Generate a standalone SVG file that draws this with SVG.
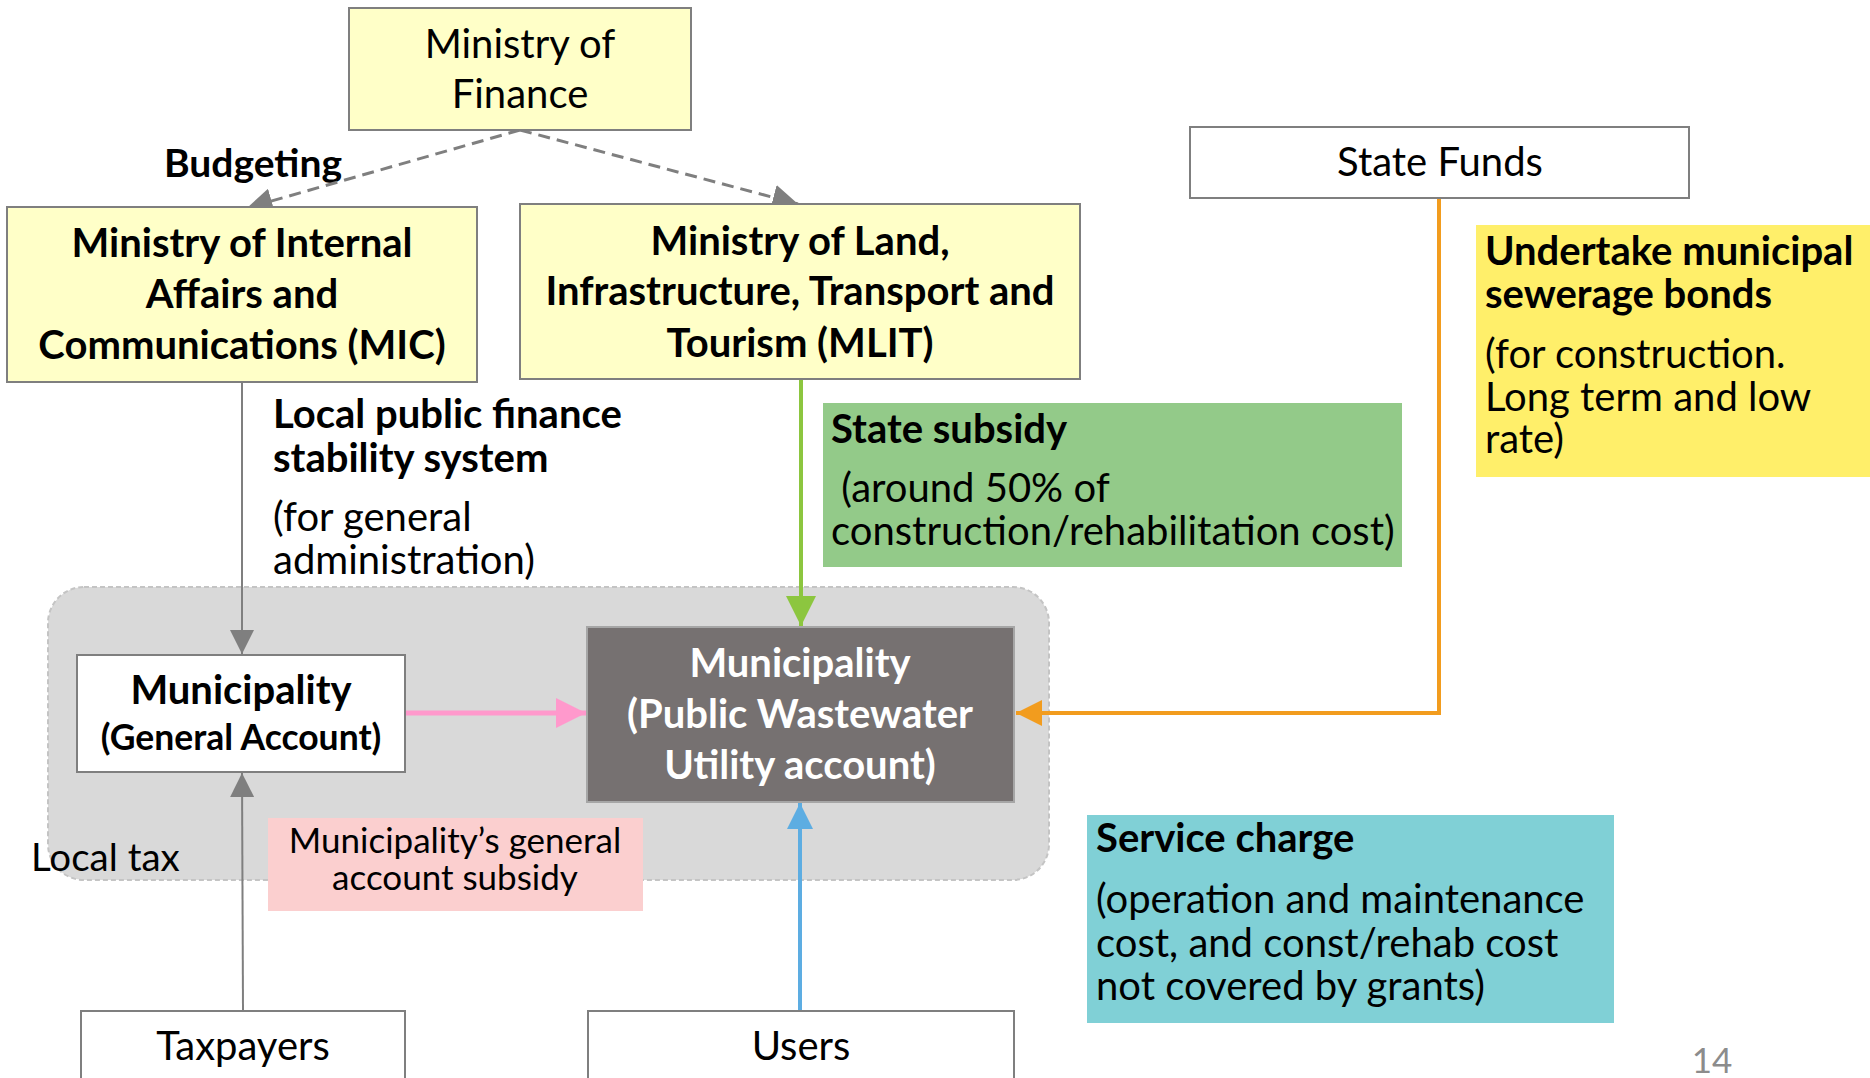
<svg xmlns="http://www.w3.org/2000/svg" width="1870" height="1078" viewBox="0 0 1870 1078">
  <style>
    text { font-family: Lato, "Open Sans", sans-serif; fill: #000; }
    .r { font-size: 40px; }
    .b { font-size: 40px; font-weight: bold; }
    .c { text-anchor: middle; }
    .w { fill: #FFFFFF; }
    .box { fill: #FFFFC8; stroke: #7F7F7F; stroke-width: 2; }
    .wbox { fill: #FFFFFF; stroke: #7F7F7F; stroke-width: 2; }
  </style>
  <defs>
    <marker id="ahGray" viewBox="0 0 10 10" refX="10" refY="5" markerWidth="12" markerHeight="12" orient="auto">
      <path d="M0,0 L10,5 L0,10 z" fill="#7F7F7F"/>
    </marker>
    <marker id="ahGrayDash" viewBox="0 0 10 10" refX="10" refY="5" markerWidth="8.5" markerHeight="8.5" orient="auto">
      <path d="M0,0 L10,5 L0,10 z" fill="#7F7F7F"/>
    </marker>
    <marker id="ahGreen" viewBox="0 0 10 10" refX="10" refY="5" markerWidth="7.5" markerHeight="7.5" orient="auto">
      <path d="M0,0 L10,5 L0,10 z" fill="#8CC63F"/>
    </marker>
    <marker id="ahPink" viewBox="0 0 10 10" refX="10" refY="5" markerWidth="6" markerHeight="6" orient="auto">
      <path d="M0,0 L10,5 L0,10 z" fill="#FF99CC"/>
    </marker>
    <marker id="ahOrange" viewBox="0 0 10 10" refX="10" refY="5" markerWidth="6.5" markerHeight="6.5" orient="auto">
      <path d="M0,0 L10,5 L0,10 z" fill="#F29C1E"/>
    </marker>
    <marker id="ahBlue" viewBox="0 0 10 10" refX="10" refY="5" markerWidth="6.5" markerHeight="6.5" orient="auto">
      <path d="M0,0 L10,5 L0,10 z" fill="#5DADE2"/>
    </marker>
  </defs>

  <!-- municipality boundary -->
  <g id="municipality-area">
    <rect x="48" y="587" width="1001" height="293" rx="36" ry="36" fill="#D9D9D9" stroke="#C4C4C4" stroke-width="2" stroke-dasharray="5 3"/>
  </g>

  <!-- labels and annotation panels -->
  <g id="label-budgeting">
    <text class="b c" x="253" y="177" style="font-size:39px">Budgeting</text>
  </g>
  <g id="label-stability">
    <text class="b" x="273" y="428">Local public finance</text>
    <text class="b" x="273" y="472">stability system</text>
    <text class="r" x="273" y="531">(for general</text>
    <text class="r" x="273" y="574">administration)</text>
  </g>
  <g id="panel-state-subsidy">
    <rect x="823" y="403" width="579" height="164" fill="#93CA89"/>
    <text class="b" x="831" y="443">State subsidy</text>
    <text class="r" x="831" y="502" xml:space="preserve"> (around 50% of</text>
    <text class="r" x="831" y="545">construction/rehabilitation cost)</text>
  </g>
  <g id="panel-bonds">
    <rect x="1476" y="225" width="394" height="252" fill="#FFEF6A"/>
    <text class="b" x="1485" y="265">Undertake municipal</text>
    <text class="b" x="1485" y="308">sewerage bonds</text>
    <text class="r" x="1485" y="368">(for construction.</text>
    <text class="r" x="1485" y="411">Long term and low</text>
    <text class="r" x="1485" y="453">rate)</text>
  </g>
  <g id="panel-general-subsidy">
    <rect x="268" y="818" width="375" height="93" fill="#FBCFCF"/>
    <text class="c" x="455" y="853" style="font-size:35px">Municipality’s general</text>
    <text class="c" x="455" y="890" style="font-size:35px">account subsidy</text>
  </g>
  <g id="label-local-tax">
    <text class="r" x="31" y="871" style="font-size:38.5px">Local tax</text>
  </g>
  <g id="panel-service-charge">
    <rect x="1087" y="815" width="527" height="208" fill="#80D0D6"/>
    <text class="b" x="1096" y="852">Service charge</text>
    <text class="r" x="1096" y="913">(operation and maintenance</text>
    <text class="r" x="1096" y="957">cost, and const/rehab cost</text>
    <text class="r" x="1096" y="1000">not covered by grants)</text>
  </g>

  <!-- connectors -->
  <g id="connectors" fill="none">
    <line x1="520" y1="130" x2="247" y2="208" stroke="#7F7F7F" stroke-width="3" stroke-dasharray="12 7" marker-end="url(#ahGrayDash)"/>
    <line x1="520" y1="130" x2="798" y2="204" stroke="#7F7F7F" stroke-width="3" stroke-dasharray="12 7" marker-end="url(#ahGrayDash)"/>
    <line x1="242" y1="382" x2="242" y2="654" stroke="#7F7F7F" stroke-width="2" marker-end="url(#ahGray)"/>
    <line x1="243" y1="1011" x2="242" y2="773" stroke="#7F7F7F" stroke-width="2" marker-end="url(#ahGray)"/>
    <line x1="801" y1="379" x2="801" y2="626" stroke="#8CC63F" stroke-width="4" marker-end="url(#ahGreen)"/>
    <line x1="406" y1="713" x2="586" y2="713" stroke="#FF99CC" stroke-width="5" marker-end="url(#ahPink)"/>
    <polyline points="1439,198 1439,713 1016,713" stroke="#F29C1E" stroke-width="4" marker-end="url(#ahOrange)"/>
    <line x1="800" y1="1011" x2="800" y2="803" stroke="#5DADE2" stroke-width="4" marker-end="url(#ahBlue)"/>
  </g>

  <!-- nodes -->
  <g id="node-mof">
    <rect class="box" x="349" y="8" width="342" height="122"/>
    <text class="r c" x="520" y="58">Ministry of</text>
    <text class="r c" x="520" y="108">Finance</text>
  </g>
  <g id="node-mic">
    <rect class="box" x="7" y="207" width="470" height="175"/>
    <text class="b c" x="242" y="257">Ministry of Internal</text>
    <text class="b c" x="242" y="308">Affairs and</text>
    <text class="b c" x="242" y="359">Communications (MIC)</text>
  </g>
  <g id="node-mlit">
    <rect class="box" x="520" y="204" width="560" height="175"/>
    <text class="b c" x="800" y="255">Ministry of Land,</text>
    <text class="b c" x="800" y="305">Infrastructure, Transport and</text>
    <text class="b c" x="800" y="357">Tourism (MLIT)</text>
  </g>
  <g id="node-state-funds">
    <rect class="wbox" x="1190" y="127" width="499" height="71"/>
    <text class="r c" x="1440" y="176">State Funds</text>
  </g>
  <g id="node-general-account">
    <rect class="wbox" x="77" y="655" width="328" height="117"/>
    <text class="b c" x="241" y="704">Municipality</text>
    <text class="b c" x="241" y="750" style="font-size:35.5px">(General Account)</text>
  </g>
  <g id="node-utility-account">
    <rect x="587" y="627" width="427" height="175" fill="#767171" stroke="#A6A6A6" stroke-width="2"/>
    <text class="b c w" x="800" y="677">Municipality</text>
    <text class="b c w" x="800" y="728">(Public Wastewater</text>
    <text class="b c w" x="800" y="779">Utility account)</text>
  </g>
  <g id="node-taxpayers">
    <rect class="wbox" x="81" y="1011" width="324" height="80"/>
    <text class="r c" x="243" y="1060">Taxpayers</text>
  </g>
  <g id="node-users">
    <rect class="wbox" x="588" y="1011" width="426" height="80"/>
    <text class="r c" x="801" y="1060">Users</text>
  </g>

  <!-- page number -->
  <g id="page-number">
    <text class="c" x="1712" y="1073" style="font-size:35px;fill:#8C8C8C">14</text>
  </g>
</svg>
